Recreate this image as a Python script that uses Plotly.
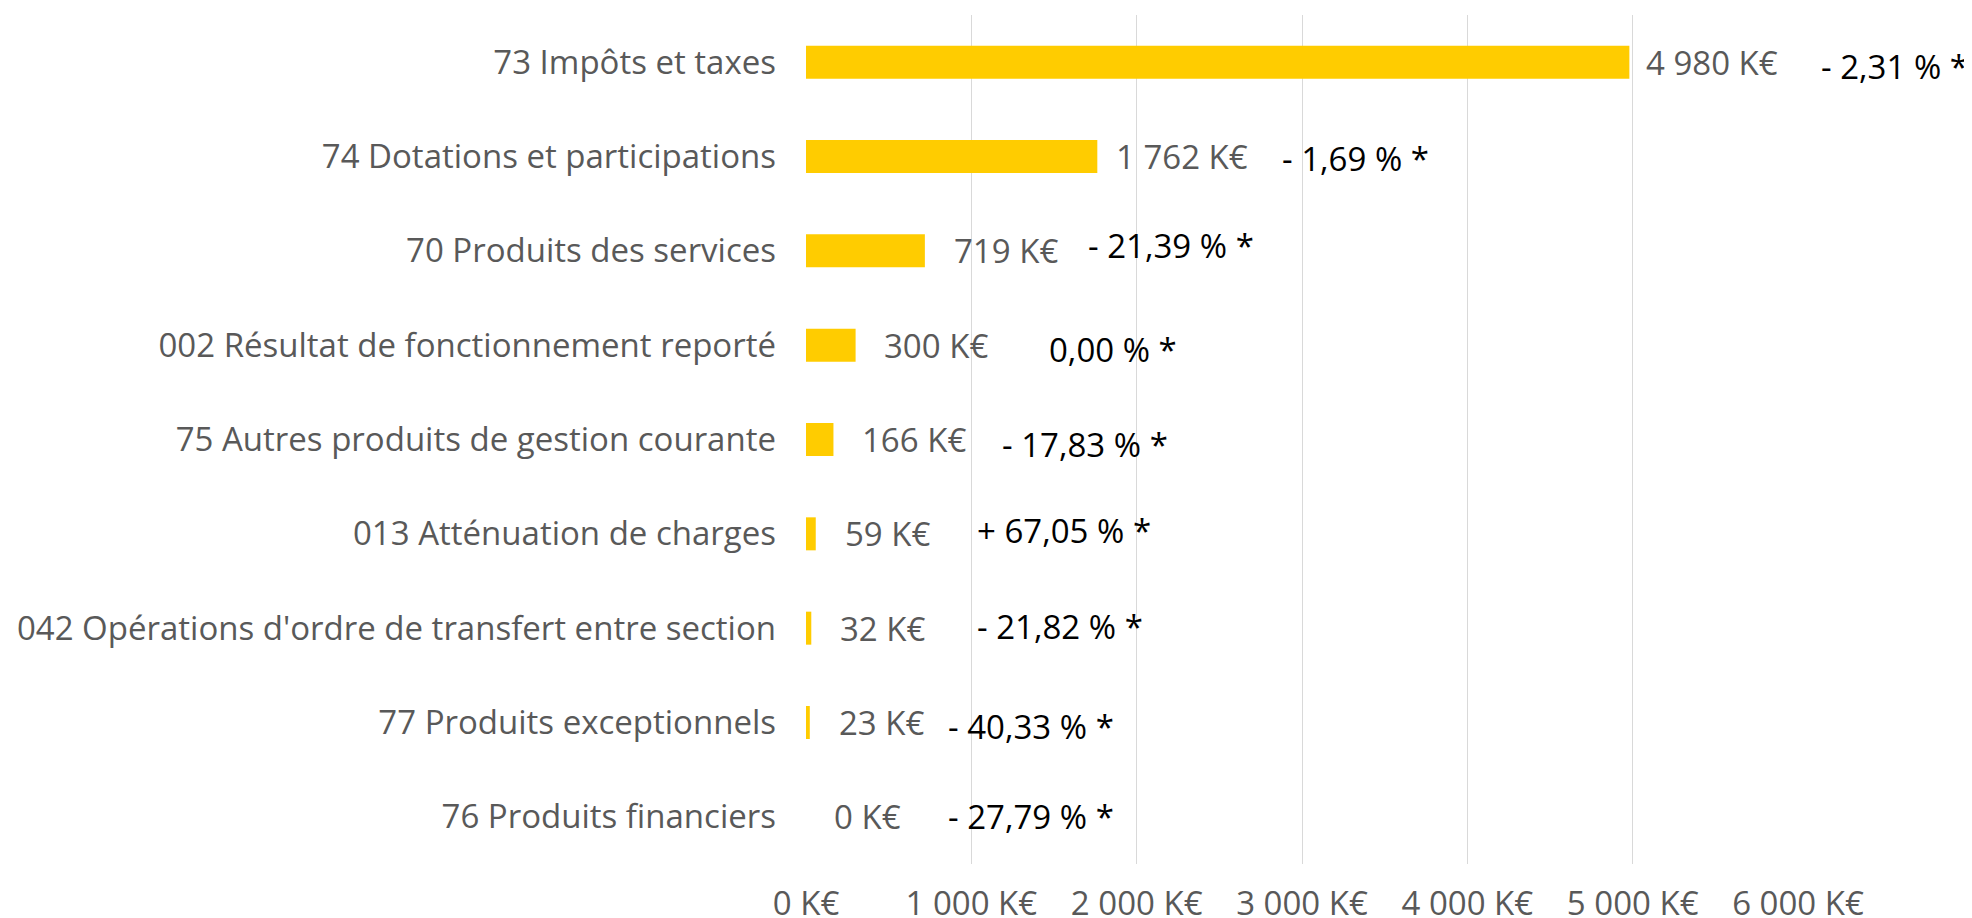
import plotly.graph_objects as go

# ---- data ----
categories = [
    "73 Impôts et taxes",
    "74 Dotations et participations",
    "70 Produits des services",
    "002 Résultat de fonctionnement reporté",
    "75 Autres produits de gestion courante",
    "013 Atténuation de charges",
    "042 Opérations d'ordre de transfert entre section",
    "77 Produits exceptionnels",
    "76 Produits financiers",
]
values = [4980, 1762, 719, 300, 166, 59, 32, 23, 0]
value_labels = ["4 980 K€", "1 762 K€", "719 K€", "300 K€", "166 K€", "59 K€", "32 K€", "23 K€", "0 K€"]
pct_labels = ["- 2,31 % *", "- 1,69 % *", "- 21,39 % *", "0,00 % *", "- 17,83 % *",
              "+ 67,05 % *", "- 21,82 % *", "- 40,33 % *", "- 27,79 % *"]
x_tickvals = [0, 1000, 2000, 3000, 4000, 5000, 6000]
x_ticktext = ["0 K€", "1 000 K€", "2 000 K€", "3 000 K€", "4 000 K€", "5 000 K€", "6 000 K€"]

# ---- style / label placement (pixels) ----
FONT = "Open Sans"
GRAY = "#595959"
value_gap = [15, 17, 27, 26, 27, 27, 27, 27, 26]
pct_gap = [190, 183, 161, 191, 167, 159, 164, 136, 140]
pct_dy = [-4, -2, 5, -4, -5, 3, 2, -4, 0]

fig = go.Figure()
fig.add_trace(go.Bar(
    y=categories, x=values, orientation="h",
    marker=dict(color="#FFCC00", line=dict(width=0)),
    width=0.35, hoverinfo="skip",
))

annotations = []
for i, (cat, v) in enumerate(zip(categories, values)):
    annotations.append(dict(
        x=v, y=cat, xref="x", yref="y", text=value_labels[i],
        xanchor="left", yanchor="middle", xshift=value_gap[i],
        showarrow=False, font=dict(family=FONT, size=33, color=GRAY),
    ))
    annotations.append(dict(
        x=v, y=cat, xref="x", yref="y", text=pct_labels[i],
        xanchor="left", yanchor="middle", xshift=pct_gap[i], yshift=pct_dy[i],
        showarrow=False, font=dict(family=FONT, size=33, color="#000000"),
    ))

# page body has an 8px margin: the figure is drawn from (8, 8)
fig.update_layout(
    width=1964, height=910,
    margin=dict(l=798, r=174, t=7, b=54),
    paper_bgcolor="white", plot_bgcolor="white",
    showlegend=False,
    font=dict(family=FONT, size=33, color=GRAY),
    annotations=annotations,
    xaxis=dict(
        range=[0, 6000], tickvals=x_tickvals, ticktext=x_ticktext,
        showgrid=True, gridcolor="#d9d9d9", gridwidth=1.3,
        zeroline=False, showline=False,
        ticks="outside", ticklen=0, ticklabelstandoff=10,
        tickfont=dict(family=FONT, size=33, color=GRAY),
        automargin=False, fixedrange=True,
    ),
    yaxis=dict(
        categoryorder="array", categoryarray=categories, autorange="reversed",
        showgrid=False, zeroline=False, showline=False,
        ticks="", ticklabelstandoff=29,
        tickfont=dict(family=FONT, size=33, color=GRAY),
        automargin=False, fixedrange=True,
    ),
    bargap=0.65,
)

fig.write_html("out.html")
